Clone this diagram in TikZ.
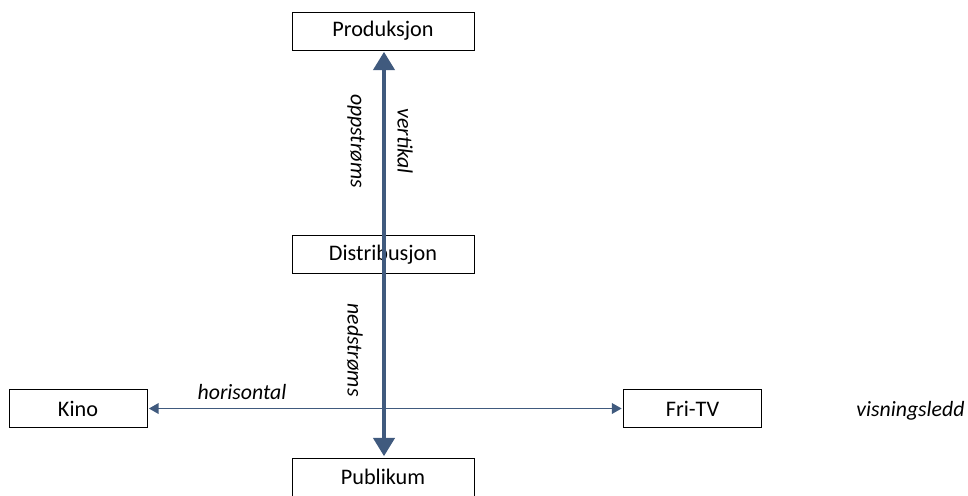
\documentclass[tikz,border=0pt]{standalone}
\usepackage{fontspec}
\setmainfont{Carlito}
\usetikzlibrary{arrows.meta}
\definecolor{pilblaa}{RGB}{64,90,126}
\tikzset{
	ledd/.style={draw, line width=0.6pt, minimum width=4.55cm, minimum height=0.95cm, inner sep=0pt, font=\fontsize{15.8}{18}\selectfont},
	sideledd/.style={ledd, minimum width=3.45cm},
	merke/.style={font=\fontsize{15.5}{18}\selectfont\itshape, inner sep=0pt},
	hovedpil/.style={pilblaa, line width=2.8pt, {Triangle[width=15pt,length=13pt]}-{Triangle[width=15pt,length=13pt]}, shorten <=1pt, shorten >=1pt},
	sidepil/.style={pilblaa, line width=1.4pt, {Triangle[width=7.5pt,length=7pt]}-{Triangle[width=7.5pt,length=7pt]}, shorten <=1pt, shorten >=1pt}
}
\begin{document}
\begin{tikzpicture}
		%%%%% START %%%%%
		\useasboundingbox (0, 0) rectangle (24.2, 12.375);
		
		\node[ledd] (produksjon) at (9.575, 11.6) {Produksjon};
		\node[ledd] (distribusjon) at (9.575, 6.0125) {Distribusjon};
		\node[ledd] (publikum) at (9.575, 0.45) {Publikum};
		
		\node[sideledd] (kino) at (1.95, 2.1625) {Kino};
		\node[sideledd] (fritv) at (17.3125, 2.1625) {Fri-TV};
		\node[merke, anchor=east] (visning) at (24.12, 2.1) {visningsledd};
		
		\draw[sidepil] (kino.east) -- (fritv.west);
		\draw[hovedpil] ([xshift=0.025cm]produksjon.south) -- ([xshift=0.025cm]publikum.north);
		
		\node[merke, rotate=-90] (opp) at (8.9, 8.85) {oppstrøms};
		\node[merke, rotate=-90] (vert) at (10.125, 8.85) {vertikal};
		\node[merke, rotate=-90] (ned) at (8.875, 3.625) {nedstrøms};
		\node[merke] (hor) at (6.05, 2.575) {horisontal};
		
		%%%%% END %%%%%
	\end{tikzpicture}
\end{document}
